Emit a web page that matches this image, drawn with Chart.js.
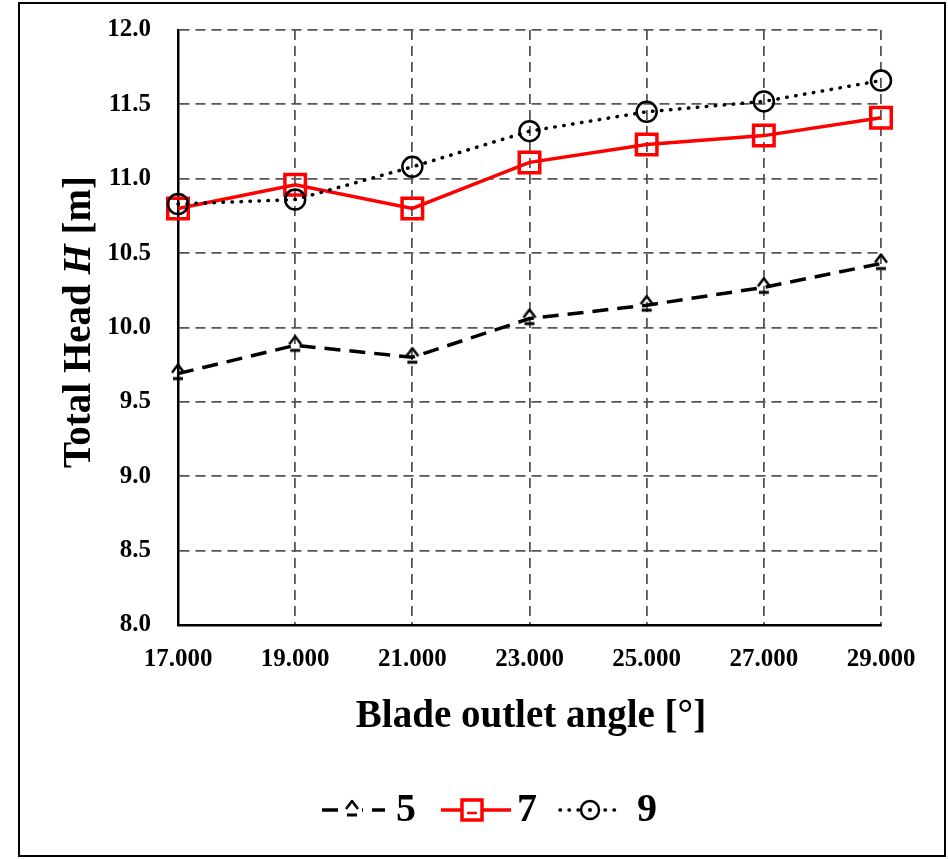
<!DOCTYPE html>
<html>
<head>
<meta charset="utf-8">
<script src="https://cdn.jsdelivr.net/npm/chart.js@4.4.1/dist/chart.umd.min.js"></script>
<style>
  html, body { margin: 0; padding: 0; background: #fff; }
  #wrap { width: 948px; height: 859px; }
</style>
</head>
<body>
<div id="wrap"><canvas id="c" width="948" height="859"></canvas></div>
<script>
// Blade outlet angle (degrees)
const angles = [17, 19, 21, 23, 25, 27, 29];
// Total head H [m] for each case
const head5 = [9.69, 9.88, 9.80, 10.06, 10.15, 10.27, 10.43];
const head7 = [10.80, 10.96, 10.80, 11.11, 11.23, 11.29, 11.41];
const head9 = [10.83, 10.86, 11.08, 11.32, 11.45, 11.52, 11.66];
const seriesNames = ['5', '7', '9'];
const xTicks = [17, 19, 21, 23, 25, 27, 29];
const yTicks = [8.0, 8.5, 9.0, 9.5, 10.0, 10.5, 11.0, 11.5, 12.0];

const SERIF = '"Liberation Serif", "Times New Roman", serif';

// small caret-with-underline marker
function caretMarker() {
  const cv = document.createElement('canvas');
  cv.width = 18; cv.height = 24;
  const g = cv.getContext('2d');
  g.strokeStyle = '#000';
  g.lineWidth = 2.5;
  g.lineJoin = 'round';
  g.beginPath();
  g.moveTo(3, 11); g.lineTo(9, 3); g.lineTo(15, 11);
  g.stroke();
  g.lineWidth = 3;
  g.beginPath();
  g.moveTo(4, 17); g.lineTo(14, 17);
  g.stroke();
  return cv;
}
const caret = caretMarker();

const toXY = (ys) => angles.map((a, i) => ({ x: a, y: ys[i] }));

const datasets = [
  {
    label: seriesNames[0], data: toXY(head5), order: 2,
    borderColor: '#000', borderWidth: 3.5, borderDash: [16, 9],
    pointStyle: caret, pointRadius: 9, backgroundColor: 'transparent', clip: false
  },
  {
    label: seriesNames[1], data: toXY(head7), order: 1,
    borderColor: '#ff0000', borderWidth: 3.5,
    pointStyle: 'rect', pointRadius: 14.5, pointBorderWidth: 3.5,
    pointBorderColor: '#ff0000', pointBackgroundColor: 'transparent', clip: false
  },
  {
    label: seriesNames[2], data: toXY(head9), order: 0,
    borderColor: '#000', borderWidth: 3.5, borderDash: [0.5, 8.5], borderCapStyle: 'round',
    pointStyle: 'circle', pointRadius: 10, pointBorderWidth: 2.5,
    pointBorderColor: '#000', pointBackgroundColor: 'transparent', clip: false
  }
];

// titles, legend and frame
const decor = {
  id: 'decor',
  afterDraw(chart) {
    const ctx = chart.ctx;
    ctx.save();
    // outer frame
    ctx.strokeStyle = '#000';
    ctx.lineWidth = 2;
    ctx.strokeRect(19, 3, 926, 853);

    ctx.fillStyle = '#000';
    ctx.textBaseline = 'middle';
    // x-axis title
    ctx.font = 'bold 39px ' + SERIF;
    ctx.textAlign = 'center';
    ctx.fillText('Blade outlet angle [°]', 531, 717);

    // y-axis title with italic H
    ctx.save();
    ctx.translate(80, 322);
    ctx.rotate(-Math.PI / 2);
    const parts = [
      ['Total Head ', 'bold 39px ' + SERIF],
      ['H', 'italic bold 39px ' + SERIF],
      [' [m]', 'bold 39px ' + SERIF]
    ];
    let total = 0;
    parts.forEach(p => { ctx.font = p[1]; total += ctx.measureText(p[0]).width; });
    let x = -total / 2;
    ctx.textAlign = 'left';
    parts.forEach(p => { ctx.font = p[1]; ctx.fillText(p[0], x, 0); x += ctx.measureText(p[0]).width; });
    ctx.restore();

    // legend
    const ly = 810;
    const items = [
      { x0: 322, x1: 385, mx: 352, tx: 396, ds: 0 },
      { x0: 441, x1: 511, mx: 472, tx: 517, ds: 1 },
      { x0: 560, x1: 622, mx: 590, tx: 637, ds: 2 }
    ];
    items.forEach(it => {
      const d = chart.data.datasets[it.ds];
      ctx.save();
      ctx.strokeStyle = d.borderColor;
      ctx.lineWidth = d.borderWidth;
      ctx.setLineDash(d.borderDash || []);
      ctx.lineCap = d.borderCapStyle || 'butt';
      ctx.beginPath();
      ctx.moveTo(it.x0, ly); ctx.lineTo(it.x1, ly);
      ctx.stroke();
      ctx.setLineDash([]);
      if (it.ds === 0) {
        ctx.fillStyle = '#fff';
        ctx.fillRect(it.mx - 10, ly - 12, 20, 24);
        ctx.drawImage(caret, it.mx - 9, ly - 12);
      } else if (it.ds === 1) {
        ctx.fillStyle = '#fff';
        ctx.strokeStyle = '#ff0000';
        ctx.lineWidth = 3.5;
        ctx.fillRect(it.mx - 10, ly - 10, 20, 20);
        ctx.strokeRect(it.mx - 10, ly - 10, 20, 20);
        ctx.lineWidth = 2.5;
        ctx.beginPath(); ctx.moveTo(it.mx - 5, ly + 3); ctx.lineTo(it.mx + 5, ly + 3); ctx.stroke();
      } else {
        ctx.fillStyle = '#fff';
        ctx.lineWidth = 2.5;
        ctx.beginPath(); ctx.arc(it.mx, ly, 9, 0, Math.PI * 2); ctx.fill(); ctx.stroke();
        ctx.fillStyle = '#000';
        ctx.beginPath(); ctx.arc(it.mx, ly, 2, 0, Math.PI * 2); ctx.fill();
      }
      ctx.restore();
      ctx.fillStyle = '#000';
      ctx.font = 'bold 40px ' + SERIF;
      ctx.textAlign = 'left';
      ctx.fillText(chart.data.datasets[it.ds].label, it.tx, ly + 1);
    });
    ctx.restore();
  }
};

new Chart(document.getElementById('c'), {
  type: 'line',
  data: { datasets },
  options: {
    responsive: false,
    animation: false,
    devicePixelRatio: 1,
    layout: { padding: { left: 0, right: 67, top: 30, bottom: 0 } },
    plugins: { legend: { display: false }, tooltip: { enabled: false } },
    scales: {
      x: {
        type: 'linear', min: 17, max: 29,
        afterBuildTicks: (s) => { s.ticks = xTicks.map(v => ({ value: v })); },
        afterFit: (s) => { s.height = 859 - 625; s.paddingRight = 0; },
        ticks: {
          color: '#000', padding: 20,
          font: { family: SERIF, size: 25, weight: 'bold' },
          callback: (v) => Number(v).toFixed(3),
          maxRotation: 0, autoSkip: false
        },
        grid: { color: '#555', lineWidth: 1.8, drawTicks: false },
        border: { display: true, color: '#000', width: 2.5, dash: [10, 6] }
      },
      y: {
        type: 'linear', min: 8, max: 12,
        afterBuildTicks: (s) => { s.ticks = yTicks.map(v => ({ value: v })); },
        afterFit: (s) => { s.width = 178; s.paddingTop = 0; s.paddingBottom = 0; },
        ticks: {
          color: '#000', padding: 27,
          font: { family: SERIF, size: 25, weight: 'bold' },
          callback: (v) => Number(v).toFixed(1)
        },
        grid: { color: '#555', lineWidth: 1.8, drawTicks: false },
        border: { display: true, color: '#000', width: 2.5, dash: [10, 6] }
      }
    }
  },
  plugins: [decor]
});
</script>
</body>
</html>
